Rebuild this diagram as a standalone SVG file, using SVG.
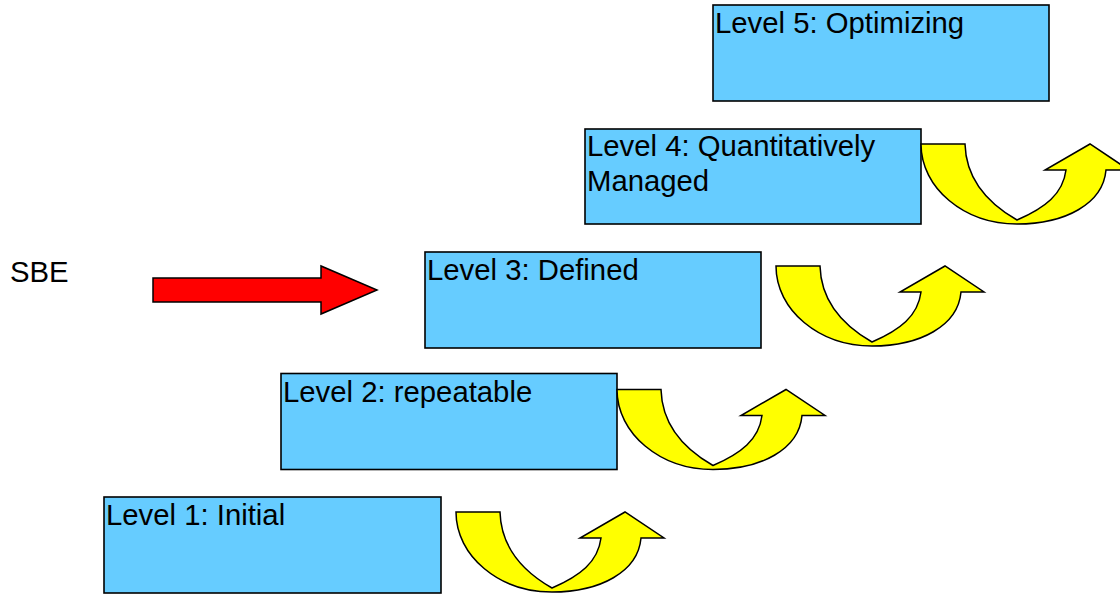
<svg xmlns="http://www.w3.org/2000/svg" width="1120" height="594" viewBox="0 0 1120 594">
  <style>
    .box { fill: #66CCFF; stroke: #000; stroke-width: 1.6; }
    .lbl { font-family: "Liberation Sans", Arial, sans-serif; font-size: 29.3px; fill: #000; }
    .uturn { fill: #FFFF00; stroke: #000; stroke-width: 1.5; stroke-linejoin: miter; }
    .push { fill: #FF0000; stroke: #000; stroke-width: 1.5; }
  </style>
  <defs>
    <!-- U-turn arrow: tail at upper left, head pointing up-right -->
    <path id="uturn-shape" class="uturn"
      d="M0,0 L44,0 C45,36 68,60 96,76 C124,64 142,50 145,26 L124,26 L169,0 L208,26 L185,26 C182,60 144,80 96,80 C43,80 0,44 0,0 Z"/>
  </defs>

  <rect width="1120" height="594" fill="#fff"/>

  <text class="lbl" x="10" y="282">SBE</text>

  <g id="level1">
    <rect class="box" x="104" y="497" width="337" height="96"/>
    <text class="lbl" x="106" y="525">Level 1: Initial</text>
  </g>
  <g id="level2">
    <rect class="box" x="281" y="373.5" width="336" height="96"/>
    <text class="lbl" x="283" y="401.5">Level 2: repeatable</text>
  </g>
  <g id="level3">
    <rect class="box" x="425" y="252" width="336" height="96"/>
    <text class="lbl" x="427" y="280">Level 3: Defined</text>
  </g>
  <g id="level4">
    <rect class="box" x="585" y="129" width="336" height="95"/>
    <text class="lbl" x="587" y="156">Level 4: Quantitatively</text>
    <text class="lbl" x="587" y="191">Managed</text>
  </g>
  <g id="level5">
    <rect class="box" x="713" y="5" width="336" height="96"/>
    <text class="lbl" x="715" y="33">Level 5: Optimizing</text>
  </g>

  <g id="connectors">
    <use href="#uturn-shape" transform="translate(456,512)"/>
    <use href="#uturn-shape" transform="translate(617,389.5)"/>
    <use href="#uturn-shape" transform="translate(776,266)"/>
    <use href="#uturn-shape" transform="translate(921,144)"/>
    <path class="push" d="M153,278 L321,278 L321,266 L377,290 L321,314 L321,302 L153,302 Z"/>
  </g>
</svg>
